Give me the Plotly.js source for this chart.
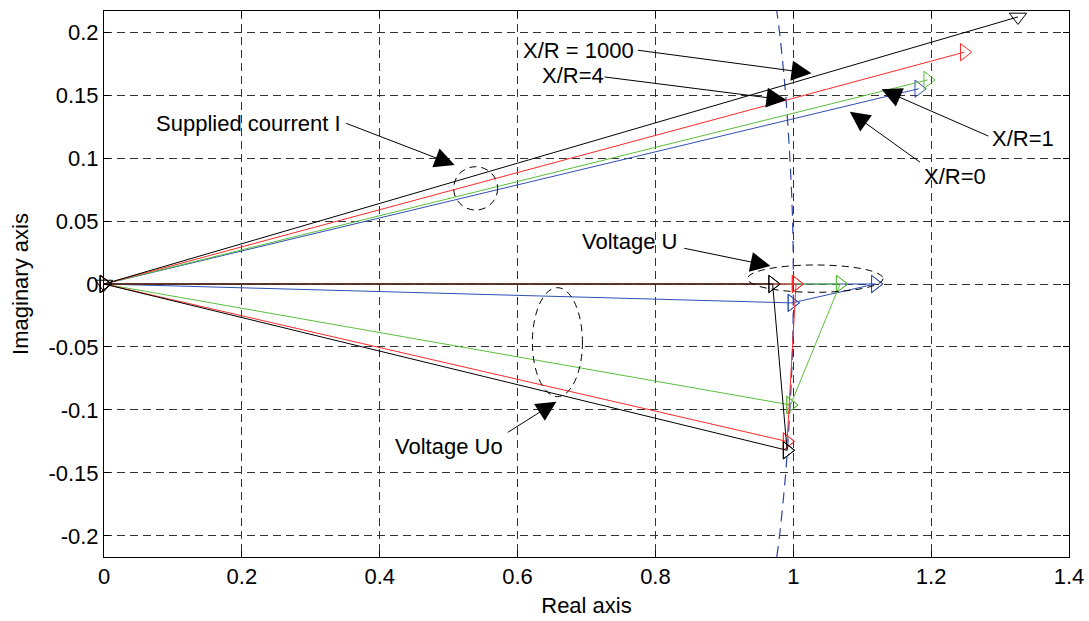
<!DOCTYPE html>
<html>
<head>
<meta charset="utf-8">
<script src="https://cdn.plot.ly/plotly-3.0.1.min.js"></script>
<style>html,body{margin:0;padding:0;background:#fff}#chart{width:1089px;height:621px}</style>
</head>
<body>
<div id="chart"></div>
<script>
// Cases (drawn in this order so black ends on top)
const cases = ['X/R=0', 'X/R=1', 'X/R=4', 'X/R=1000'];
const caseColors = ['#2f4fb5', '#5cbf3c', '#ff2a2a', '#000000'];
const caseSymbols = ['triangle-right-open', 'triangle-right-open', 'triangle-right-open', 'triangle-down-open'];

// Supplied current I (phasor tips)
const currentRe = [1.182, 1.195, 1.248, 1.326];
const currentIm = [0.155, 0.162, 0.184, 0.212];

// Voltage U (phasor tips, on the real axis)
const voltURe = [1.119, 1.068, 1.004, 0.970];
const voltUIm = [0, 0, 0, 0];

// Voltage Uo (phasor tips)
const voltUoRe = [0.998, 0.996, 0.991, 0.991];
const voltUoIm = [-0.015, -0.096, -0.125, -0.132];

// |Uo| = 1 reference arc
const arcRe = [0.976, 0.980, 0.989, 0.995, 0.999, 1.000, 0.999, 0.995, 0.989, 0.980, 0.976];
const arcIm = [-0.2167, -0.2, -0.15, -0.1, -0.05, 0, 0.05, 0.1, 0.15, 0.2, 0.2167];

// Axis ticks
const xTickVals = [0, 0.2, 0.4, 0.6, 0.8, 1, 1.2, 1.4];
const xTickText = ['0', '0.2', '0.4', '0.6', '0.8', '1', '1.2', '1.4'];
const yTickVals = [-0.2, -0.15, -0.1, -0.05, 0, 0.05, 0.1, 0.15, 0.2];
const yTickText = ['-0.2', '-0.15', '-0.1', '-0.05', '0', '0.05', '0.1', '0.15', '0.2'];

const FONT = 'Liberation Sans, Arial, Helvetica, sans-serif';

const traces = [];
traces.push({
  x: arcRe, y: arcIm, type: 'scatter', mode: 'lines',
  line: {color: '#2c45a8', width: 1.2, dash: '11px,7px', shape: 'spline'},
  hoverinfo: 'skip', showlegend: false
});

function seg(x0, y0, x1, y1, color, symbol) {
  return {
    x: [x0, x1], y: [y0, y1], type: 'scatter', mode: 'lines+markers',
    line: {color: color, width: 1},
    marker: {symbol: symbol, size: 15, color: color, line: {color: color, width: 1}},
    cliponaxis: false, showlegend: false, hoverinfo: 'skip'
  };
}

for (let i = 0; i < cases.length; i++) {
  const c = caseColors[i], s = caseSymbols[i];
  traces.push(seg(0, 0, voltURe[i], voltUIm[i], c, 'triangle-right-open'));
  traces.push(seg(0, 0, voltUoRe[i], voltUoIm[i], c, 'triangle-right-open'));
  traces.push(seg(voltUoRe[i], voltUoIm[i], voltURe[i], voltUIm[i], c, 'triangle-right-open'));
  traces.push(seg(0, 0, currentRe[i], currentIm[i], c, s));
}

function label(text, x, y) {
  return {text: text, x: x, y: y, xref: 'x', yref: 'y', xanchor: 'left', yanchor: 'middle',
    showarrow: false, font: {family: FONT, size: 22, color: '#000'}};
}
function arrow(tipX, tipY, tailX, tailY) {
  return {text: ' ', x: tipX, y: tipY, ax: tailX, ay: tailY, xref: 'x', yref: 'y', axref: 'x', ayref: 'y',
    showarrow: true, arrowhead: 2, arrowsize: 4, arrowwidth: 1, arrowcolor: '#000',
    font: {size: 1}};
}

const annotations = [
  label('Supplied courrent I', 0.072, 0.1275),
  label('X/R = 1000', 0.6055, 0.1857),
  label('X/R=4', 0.6321, 0.1659),
  label('X/R=1', 1.2852, 0.1156),
  label('X/R=0', 1.1861, 0.0852),
  label('Voltage U', 0.6901, 0.0336),
  label('Voltage Uo', 0.4191, -0.1291),
  arrow(1.0264, 0.1672, 0.7724, 0.1857),
  arrow(0.9901, 0.1460, 0.7239, 0.1645),
  arrow(0.5087, 0.0944, 0.3491, 0.1280),
  arrow(1.1280, 0.1545, 1.2852, 0.1169),
  arrow(1.0820, 0.1367, 1.1861, 0.0958),
  arrow(0.9669, 0.0143, 0.8396, 0.0286),
  arrow(0.6563, -0.0934, 0.5837, -0.1185)
];

const ell = (x0, x1, y0, y1) => ({type: 'circle', xref: 'x', yref: 'y', x0: x0, x1: x1, y0: y0, y1: y1,
  line: {color: '#000', width: 1, dash: '7px,5px'}});
const shapes = [
  ell(0.5073, 0.5711, 0.0587, 0.0931),
  ell(0.6215, 0.6941, -0.0894, -0.0029),
  ell(0.9335, 1.1303, -0.0066, 0.0151)
];

const axisCommon = {
  showline: true, linecolor: '#000', linewidth: 1, mirror: 'ticks',
  ticks: 'inside', ticklen: 6, tickcolor: '#000', tickwidth: 1,
  showgrid: true, gridcolor: '#333', gridwidth: 1, griddash: '8px,5px',
  zeroline: false, tickfont: {family: FONT, size: 22, color: '#000'}
};

const layout = {
  width: 1089, height: 621,
  margin: {l: 104, r: 20, t: 11, b: 64},
  paper_bgcolor: '#fff', plot_bgcolor: '#fff',
  showlegend: false,
  xaxis: Object.assign({}, axisCommon, {
    range: [0, 1.4], tickmode: 'array', tickvals: xTickVals, ticktext: xTickText,
    title: {text: 'Real axis', font: {family: FONT, size: 22, color: '#000'}, standoff: 9}
  }),
  yaxis: Object.assign({}, axisCommon, {
    range: [-0.2167, 0.2167], tickmode: 'array', tickvals: yTickVals, ticktext: yTickText,
    title: {text: 'Imaginary axis', font: {family: FONT, size: 22, color: '#000'}, standoff: 13}
  }),
  annotations: annotations,
  shapes: shapes
};

Plotly.newPlot('chart', traces, layout, {staticPlot: true, displayModeBar: false});
</script>
</body>
</html>
